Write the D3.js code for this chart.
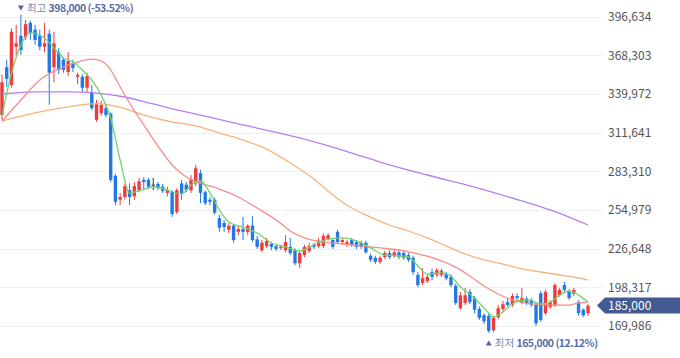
<!DOCTYPE html>
<html>
<head>
<meta charset="utf-8">
<script src="https://d3js.org/d3.v7.min.js"></script>
<style>
body { margin:0; background:#fff; }
svg { display:block; font-family:"Noto Sans CJK KR","Noto Sans",sans-serif; }
</style>
</head>
<body>
<div id="chart"></div>
<script>
// daily candles, oldest first
var opens = [324500,359500,346500,374500,382500,381500,392000,387000,382500,374500,
    384000,359500,370500,365000,356000,362500,352500,352500,344500,341500,
    321000,326000,329500,325500,280000,262500,264500,269500,265000,269500,
    277000,277000,273500,274000,272000,267500,268000,253500,274500,273500,
    269500,274500,282000,268000,262500,262500,249000,245500,240500,243500,
    239000,241000,239000,243500,233500,225500,228500,230000,228500,227000,
    225500,228000,225500,216000,222000,225000,229500,228500,228500,233500,
    233000,239000,231500,229500,233000,231500,231000,231000,221500,220000,
    217000,220500,223500,221500,224000,223500,222000,220000,207500,201500,
    203000,209500,207500,207500,208000,206000,199500,183000,187000,195000,
    190500,182500,178000,177500,167000,176500,182500,187500,185500,192000,
    187500,190000,189000,185500,194000,179500,184000,185500,192500,200000,
    195500,193500,187500,182000,179500];
var highs = [354000,365000,388000,390500,398000,394000,393500,390500,387000,392000,
    387000,385500,373500,367000,370500,365000,355500,354500,355500,346500,
    335500,335000,332000,326500,281500,267500,274500,274500,275500,278500,
    279000,278500,278500,275500,274000,272000,269500,271000,277000,275500,
    280500,288000,284500,269500,264500,264000,251500,247500,245500,244500,
    243500,250000,244500,250500,236000,233000,234500,231500,230000,229500,
    236500,234500,227000,225000,229500,231000,231000,234500,238000,238000,
    234500,240500,234500,233000,234500,233000,232500,232500,223000,221500,
    221500,225000,225500,226500,225500,225000,223500,221500,209500,212500,
    208000,212000,212500,212000,209500,208000,201000,195000,198000,197000,
    192000,184500,179500,179000,177500,185500,188500,190000,194000,194000,
    198000,191500,190500,187000,195500,196500,189000,201500,198000,202500,
    197000,198000,189000,183000,186000];
var lows = [321000,345000,344500,368500,368500,379500,379500,376000,372000,370500,
    332000,348500,354500,355500,353000,356000,347000,341500,341500,328000,
    319500,324000,323000,275500,258500,258500,262500,258500,262500,268000,
    269500,270500,269500,269500,267500,265000,250000,252000,262500,268000,
    267500,272500,260000,258500,258500,251500,239000,239000,238000,231000,
    236500,233000,236500,231500,226500,224000,227000,225500,225000,225500,
    224000,222000,214500,212500,220500,223500,226500,227000,227000,232500,
    226500,230000,230000,228000,228000,226500,226500,223000,217000,215500,
    215500,219000,219000,220000,219000,218500,217000,207500,198500,200000,
    201500,203500,206000,206000,203500,198500,185500,182000,185500,186000,
    179500,174500,171500,165000,165500,175000,181000,184000,184000,188500,
    186000,185500,184000,170000,173000,178000,182500,184000,191500,195000,
    189000,192000,177500,176500,177500];
var closes = [348500,351000,385500,377000,372000,391000,384500,379500,374500,377000,
    355500,377000,357500,357500,364000,359000,354000,344500,353000,329500,
    332500,332000,324500,277000,261000,264500,272500,264500,272500,276000,
    275500,272000,273500,271000,269000,269500,252000,269500,267500,269500,
    277500,285500,267500,260000,261000,253000,242000,242500,243500,233000,
    241000,239000,243500,233000,228000,231000,232500,228000,226500,228000,
    231500,223500,216000,223500,228000,228500,228000,232500,236000,236500,
    228000,231500,233000,231500,229500,228000,228000,224000,218500,217000,
    220000,223500,220500,224000,220500,220000,218500,209500,200000,205000,
    206000,206000,211000,210500,205000,200000,187000,192500,192500,187500,
    182000,176000,173500,166500,176000,183000,186000,185500,192000,190500,
    190500,187000,185500,172000,174500,195000,187500,200000,196500,196500,
    190500,196500,179500,178000,185000];

// moving averages: [candle index, value]
var ma5 = [[0,324000],[2,355000],[4,375800],[6,384600],[9,380900],[11,373600],[13,366300],
    [15,363300],[17,357500],[19,350100],[21,339200],[23,322300],[25,291600],[27,267400],
    [29,268900],[32,271800],[35,269600],[38,266700],[40,273300],[42,276200],[44,267400],
    [46,255000],[48,246200],[51,242500],[54,238100],[57,230800],[60,227900],[63,225000],
    [66,229400],[69,233700],[72,234500],[75,232300],[78,227200],[81,222000],[84,221300],
    [86,220600],[88,214000],[90,208100],[93,208900],[95,206700],[97,198600],[99,193500],
    [101,186900],[103,179600],[104,176600],[106,180300],[108,186200],[110,189100],
    [112,188400],[114,186200],[116,187600],[118,192700],[120,195700],[122,192700],[124,187600]];
var ma20 = [[0,320100],[4,335500],[8,350100],[12,358200],[16,363300],[19,365500],[21,364100],
    [23,357500],[25,345000],[27,333300],[30,317200],[33,301800],[36,287900],[39,279100],
    [42,274700],[46,270300],[50,264500],[54,256400],[58,247700],[61,239600],[64,234500],
    [68,231500],[72,230100],[76,228600],[80,227200],[84,225700],[88,222800],[92,219100],
    [96,213200],[99,206700],[102,199300],[105,193500],[108,189100],[112,186200],
    [116,185400],[120,185400],[122,186900],[124,187600]];
var ma60 = [[0,320100],[7,326000],[14,330400],[20,332900],[24,331100],[30,324500],[36,319400],
    [41,316500],[46,311300],[51,306200],[56,299600],[61,289400],[66,277700],[70,266000],
    [74,256400],[78,249800],[82,244000],[86,239600],[90,234500],[94,228600],[98,222800],
    [102,218400],[106,215400],[110,211800],[114,209600],[118,207400],[122,205200],[124,203700]];
var ma120 = [[0,339900],[7,341400],[14,341400],[20,340600],[26,337700],[32,332600],[38,327500],
    [42,324500],[52,316500],[63,307700],[74,296700],[80,290100],[90,280600],[100,271800],
    [110,261600],[116,255000],[120,249800],[124,244000]];

var yTicks = [169986,198317,226648,254979,283310,311641,339972,368303,396634];

var width = 680, height = 358;
var upColor = "#ee3b3b", downColor = "#2178e6", flatColor = "#333";

var svg = d3.select("#chart").append("svg")
    .attr("width", width)
    .attr("height", height);

var x = d3.scaleLinear()
    .domain([0, closes.length - 1])
    .range([2, 588]);
var y = d3.scaleLinear()
    .domain([yTicks[0], yTicks[yTicks.length - 1]])
    .range([326.1, 16.5]);

// grid lines
svg.append("g").selectAll("line")
    .data(yTicks)
    .enter().append("line")
    .attr("x1", 0)
    .attr("x2", 603)
    .attr("y1", function(d) { return Math.round(y(d)) + 0.5; })
    .attr("y2", function(d) { return Math.round(y(d)) + 0.5; })
    .attr("stroke", "#eff0f4")
    .attr("stroke-width", 1);

// candles
var candles = closes.map(function(c, i) {
    return {i: i, o: opens[i], h: highs[i], l: lows[i], c: c};
});
function candleColor(d) {
    if (d.c > d.o) return upColor;
    if (d.c < d.o) return downColor;
    return flatColor;
}

var cg = svg.append("g").selectAll("g")
    .data(candles)
    .enter().append("g");

cg.append("line")
    .attr("x1", function(d) { return x(d.i); })
    .attr("x2", function(d) { return x(d.i); })
    .attr("y1", function(d) { return y(d.h); })
    .attr("y2", function(d) { return y(d.l); })
    .attr("stroke", candleColor)
    .attr("stroke-width", 1);

cg.append("rect")
    .attr("x", function(d) { return x(d.i) - 1.7; })
    .attr("width", 3.4)
    .attr("y", function(d) { return y(Math.max(d.o, d.c)); })
    .attr("height", function(d) { return Math.max(1, Math.abs(y(d.o) - y(d.c))); })
    .attr("fill", candleColor);

// moving average lines
var line = d3.line()
    .x(function(d) { return x(d[0]); })
    .y(function(d) { return y(d[1]); })
    .curve(d3.curveMonotoneX);

var maSeries = [
    {data: ma120, color: "#b681ef"},
    {data: ma60, color: "#f8b27a"},
    {data: ma20, color: "#f68c8c"},
    {data: ma5, color: "#74d36c"}
];
svg.append("g").selectAll("path")
    .data(maSeries)
    .enter().append("path")
    .attr("d", function(d) { return line(d.data); })
    .attr("fill", "none")
    .attr("stroke", function(d) { return d.color; })
    .attr("stroke-width", 1.3);

// y axis on the right
var yAxis = svg.append("g")
    .attr("transform", "translate(608,0)")
    .call(d3.axisRight(y)
        .tickValues(yTicks)
        .tickSize(0)
        .tickPadding(0)
        .tickFormat(d3.format(",")));
yAxis.select(".domain").remove();
yAxis.selectAll("text")
    .attr("fill", "#555")
    .style("font-size", "12px")
    .style("font-family", "'Noto Sans CJK KR','Noto Sans',sans-serif");

// current price tag
var last = closes[closes.length - 1];
var ly = y(last);
svg.append("path")
    .attr("d", "M597," + ly + "L605," + (ly - 8) + "L680," + (ly - 8) +
        "L680," + (ly + 8) + "L605," + (ly + 8) + "Z")
    .attr("fill", "#435a93");
svg.append("text")
    .attr("x", 608)
    .attr("y", ly + 4.5)
    .attr("fill", "#fff")
    .style("font-size", "12px")
    .text(d3.format(",")(last));

// high / low markers
var hiIdx = d3.maxIndex(highs), loIdx = d3.minIndex(lows);
var hi = highs[hiIdx], lo = lows[loIdx];

function marker(idx, val, label, ty, down) {
    var cx = x(idx);
    var tri = down
        ? "M" + (cx - 3) + "," + (ty - 2.5) + "L" + (cx + 3) + "," + (ty - 2.5) + "L" + cx + "," + (ty + 2.5) + "Z"
        : "M" + (cx - 3) + "," + (ty + 2.5) + "L" + (cx + 3) + "," + (ty + 2.5) + "L" + cx + "," + (ty - 2.5) + "Z";
    svg.append("path").attr("d", tri).attr("fill", "#52669e");
    var t = svg.append("text")
        .attr("x", cx + 6)
        .attr("y", ty + 4)
        .style("font-size", "10.5px");
    t.append("tspan")
        .attr("fill", "#7786b3")
        .text(label + " ");
    t.append("tspan")
        .attr("fill", "#5a6da6")
        .attr("font-weight", "bold")
        .style("letter-spacing", "-0.5px")
        .text(d3.format(",")(val) + " (" + ((last - val) / val * 100).toFixed(2) + "%)");
}
marker(hiIdx, hi, "최고", 8, true);
marker(loIdx, lo, "최저", 343, false);
</script>
</body>
</html>
